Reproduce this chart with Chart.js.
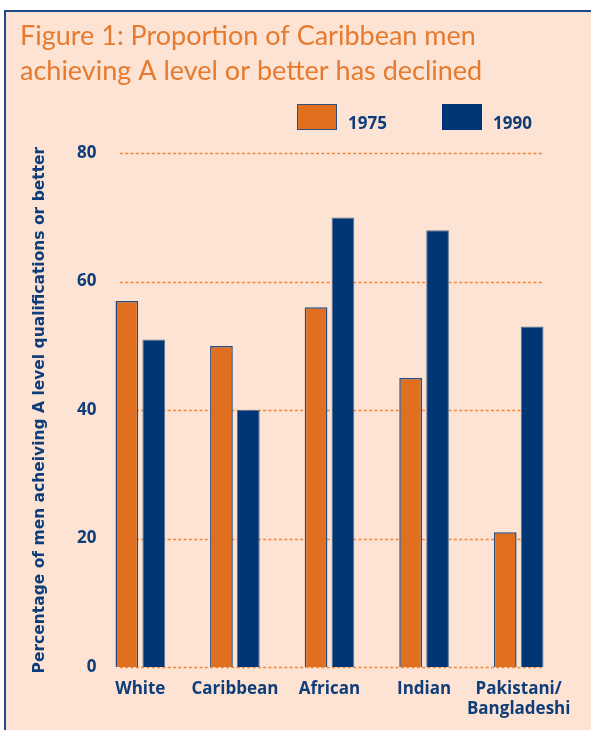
<!DOCTYPE html>
<html>
<head>
<meta charset="utf-8">
<script src="https://cdn.jsdelivr.net/npm/chart.js@4/dist/chart.umd.min.js"></script>
<style>
  html, body { margin: 0; padding: 0; background: #fff; }
  #wrap { position: relative; width: 591px; height: 730px; overflow: hidden; }
  #frame { position: absolute; left: 4px; top: 10px; right: -10px; bottom: -10px;
           border-left: 2px solid #1f4b87; border-top: 2px solid #1f4b87; background: #fce3d3; }
  canvas { position: absolute; left: 0; top: 0; }
</style>
</head>
<body>
<div id="wrap">
  <div id="frame"></div>
  <canvas id="grafico" width="591" height="730"></canvas>
</div>
<script>
const categories = ['White', 'Caribbean', 'African', 'Indian', ['Pakistani/', 'Bangladeshi']]
const seriesNames = ['1975', '1990']
const values1975 = [57, 50, 56, 45, 21]
const values1990 = [51, 40, 70, 68, 53]
const yTicks = [0, 20, 40, 60, 80]

const navy = '#003675'
const textNavy = '#0f3d7a'
const orange = '#e07020'

// dotted grid lines, shorter than the plot area like in the original
const dottedGrid = {
  id: 'dottedGrid',
  beforeDatasetsDraw(chart) {
    const ctx = chart.ctx
    const y = chart.scales.y
    const area = chart.chartArea
    ctx.save()
    ctx.strokeStyle = '#f0883c'
    ctx.lineWidth = 1.4
    ctx.setLineDash([3, 2.3])
    yTicks.forEach(v => {
      const py = Math.round(y.getPixelForValue(v)) + 0.5
      ctx.beginPath()
      ctx.moveTo(area.left + 27, py)
      ctx.lineTo(area.right - 22, py)
      ctx.stroke()
    })
    ctx.restore()
  }
}

// legend boxes
const boxLegend = {
  id: 'boxLegend',
  afterDraw(chart) {
    const ctx = chart.ctx
    ctx.save()
    chart.data.datasets.forEach((ds, i) => {
      const x = 297 + i * 145
      ctx.fillStyle = ds.backgroundColor
      ctx.fillRect(x, 104, 40, 26)
      if (i === 0) {
        ctx.strokeStyle = '#2f5080'
        ctx.lineWidth = 1
        ctx.strokeRect(x + 0.5, 104.5, 39, 25)
      }
      ctx.fillStyle = textNavy
      ctx.font = 'bold 17px "Open Sans"'
      ctx.textBaseline = 'alphabetic'
      ctx.fillText(ds.label, x + 51, 129)
    })
    ctx.restore()
  }
}

const data = {
  labels: categories,
  datasets: [{
    label: seriesNames[0],
    data: values1975,
    backgroundColor: orange,
    borderColor: '#2a4a7c',
    borderWidth: 1.5,
    barPercentage: 0.844,
    categoryPercentage: 0.569
  }, {
    label: seriesNames[1],
    data: values1990,
    backgroundColor: navy,
    borderColor: '#5d7294',
    borderWidth: 1,
    barPercentage: 0.844,
    categoryPercentage: 0.569
  }]
}

const config = {
  type: 'bar',
  data,
  options: {
    responsive: false,
    animation: false,
    layout: { padding: { left: 20, right: 25, top: 0, bottom: 0 } },
    plugins: {
      legend: { display: false },
      tooltip: { enabled: false },
      title: {
        display: true,
        text: ['Figure 1: Proportion of Caribbean men', 'achieving A level or better has declined'],
        align: 'start',
        color: '#e67a2e',
        font: { family: 'Lato', size: 27, weight: 400, lineHeight: 1.3 },
        padding: { top: 19, bottom: 64 }
      }
    },
    scales: {
      x: {
        grid: { display: false, drawTicks: false },
        border: { display: false },
        ticks: {
          color: textNavy,
          font: { family: 'Open Sans', size: 17, weight: 'bold', lineHeight: 1.2 },
          padding: 12,
          maxRotation: 0,
          autoSkip: false
        },
        afterFit: s => { s.height = 63 }
      },
      y: {
        min: 0,
        max: 80,
        grid: { display: false, drawTicks: false },
        border: { display: false },
        afterBuildTicks: s => { s.ticks = yTicks.map(v => ({ value: v })) },
        ticks: {
          color: textNavy,
          font: { family: 'Open Sans', size: 17, weight: 'bold' },
          mirror: true,
          crossAlign: 'far',
          padding: -16
        },
        title: {
          display: true,
          text: 'Percentage of men acheiving A level qualifications or better',
          color: textNavy,
          font: { family: 'DejaVu Sans', size: 15.5, weight: 'bold' },
          padding: { top: 11, bottom: 0 }
        },
        afterFit: s => { s.width = 73 }
      }
    }
  },
  plugins: [dottedGrid, boxLegend]
}

new Chart(document.getElementById('grafico'), config)
</script>
</body>
</html>
